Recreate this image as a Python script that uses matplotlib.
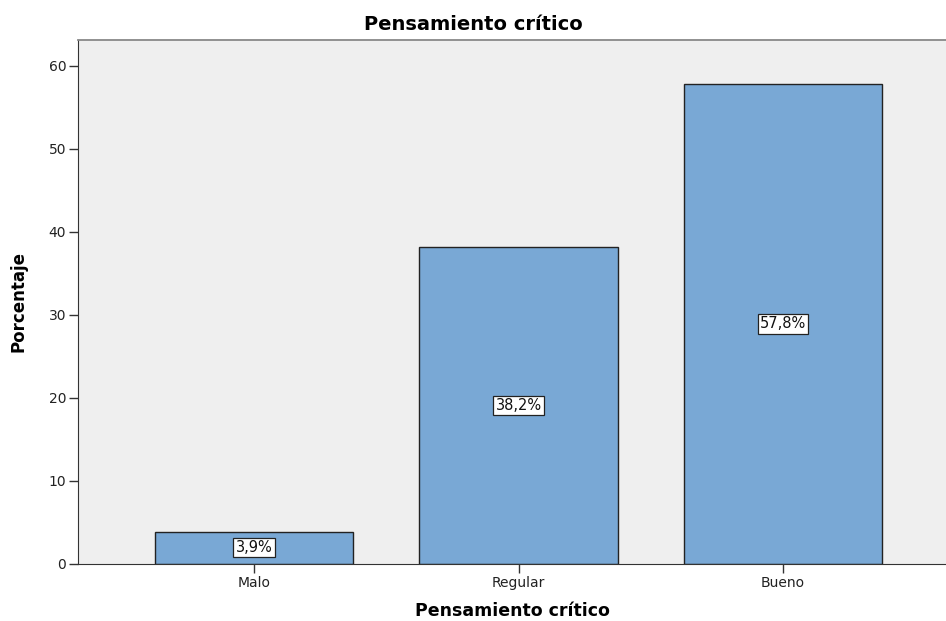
import matplotlib
matplotlib.use("Agg")
import matplotlib.pyplot as plt

plt.rcParams['font.family'] = ['DejaVu Sans']

categorias = ["Malo", "Regular", "Bueno"]
porcentajes = [3.9, 38.2, 57.8]
etiquetas = ["3,9%", "38,2%", "57,8%"]
yticks = [0, 10, 20, 30, 40, 50, 60]

fig = plt.figure(figsize=(9.46, 6.21), dpi=100)
ax = fig.add_axes([0.0825, 0.0918, 0.9175, 0.8438])
ax.set_facecolor("#efefef")

x = range(len(categorias))
ax.bar(x, porcentajes, width=0.75, color="#79a8d5", edgecolor="#222222", linewidth=1.0, zorder=2)

# etiquetas con recuadro blanco a media altura
for xi, v, lab in zip(x, porcentajes, etiquetas):
    ax.text(xi, v / 2, lab, ha="center", va="center", fontsize=10.5, color="#111111", zorder=3,
            bbox=dict(boxstyle="square,pad=0.15", facecolor="white", edgecolor="#222222", linewidth=0.9))

ax.set_xlim(-0.665, 2.616)
ax.set_ylim(0, 63.1)
ax.set_xticks(list(x))
ax.set_xticklabels(categorias, fontsize=10, color="#222222")
ax.set_yticks(yticks)
ax.set_yticklabels([str(t) for t in yticks], fontsize=10, color="#222222")
ax.tick_params(axis="both", direction="out", length=6.5, width=1.0, color="#333333", pad=2)

ax.spines["right"].set_visible(False)
ax.spines["top"].set_color("#888888")
ax.spines["top"].set_linewidth(1.3)
ax.spines["left"].set_color("#333333")
ax.spines["bottom"].set_color("#333333")

# el titulo va centrado en la figura, no en los ejes
fig.text(0.5, 1 - 24 / 621, "Pensamiento crítico", ha="center", va="center",
         fontsize=14, fontweight="bold")
ax.set_xlabel("Pensamiento crítico", fontsize=12.5, fontweight="bold", labelpad=9)
ax.set_ylabel("Porcentaje", fontsize=12, fontweight="bold", labelpad=15)

fig.savefig("out.png", dpi=100)
